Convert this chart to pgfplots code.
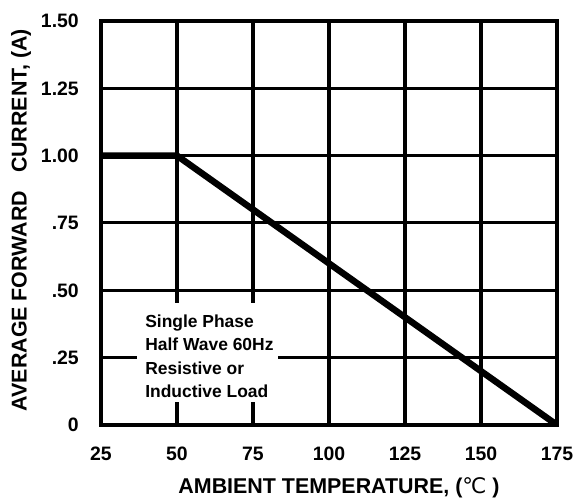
\documentclass[border=0pt]{standalone}
\usepackage{pgfplots}
\pgfplotsset{compat=1.18}
\usepackage{fontspec}
\setmainfont{Liberation Sans}
\newfontfamily\dejavu{DejaVu Sans}

\begin{document}
\begin{tikzpicture}
\begin{axis}[
  name=ax,
  scale only axis, width=456bp, height=404bp,
  xmin=25, xmax=175, ymin=0, ymax=1.5,
  xtick={25,50,75,100,125,150,175},
  xticklabels={25,50,75,100,125,150,175},
  ytick={0,0.25,0.5,0.75,1,1.25,1.5},
  yticklabels={0,.25,.50,.75,1.00,1.25,1.50},
  grid=major,
  grid style={black, line width=3bp},
  x grid style={line width=4bp},
  axis line style={line width=3.5bp},
  major tick length=0pt,
  tick label style={font=\fontsize{19.5}{19.5}\selectfont\bfseries},
  xticklabel style={anchor=north, inner sep=0pt, yshift=-22bp},
  yticklabel style={anchor=east, inner sep=0pt, xshift=-22bp},
  xlabel={AMBIENT TEMPERATURE, ({\dejavu\mdseries ℃} )},
  ylabel={AVERAGE FORWARD \ \ CURRENT, (A)},
  xlabel style={font=\fontsize{21.5}{21.5}\selectfont\bfseries, at={(axis description cs:0.522,-0.156)}, anchor=center},
  ylabel style={font=\fontsize{21.5}{21.5}\selectfont\bfseries, at={(axis description cs:-0.175,0.507)}, anchor=center, rotate=0},
]
\addplot[black, line width=6.5bp, line join=miter] coordinates {(25,1) (50,1) (175,0)};
\fill[white] (axis cs:36.8,0.085) rectangle (axis cs:83.2,0.453);
\node[anchor=north west, align=left, inner sep=0pt,
      font=\fontsize{17.5}{23.5}\selectfont\bfseries]
  at (axis cs:39.5,0.41)
  {Single Phase\\Half Wave 60Hz\\Resistive or\\Inductive Load};
\end{axis}
\pgfresetboundingbox
\path[use as bounding box] ([shift={(-101bp,-76bp)}]ax.south west) rectangle ([shift={(21bp,21bp)}]ax.north east);
\end{tikzpicture}
\end{document}
